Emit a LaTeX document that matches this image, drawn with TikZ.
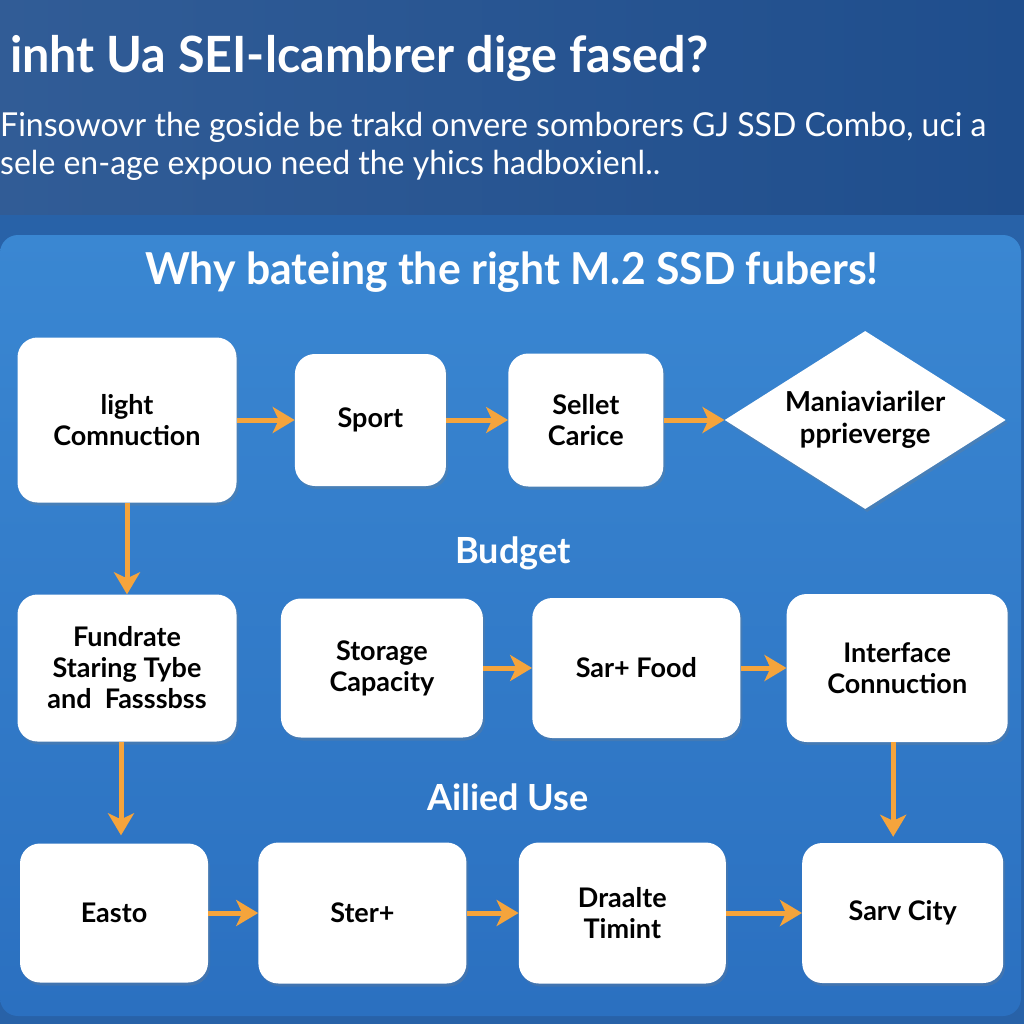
\documentclass[tikz,border=0pt]{standalone}
\usepackage{fontspec}
\setmainfont{Lato}
\newfontfamily\headfont[FakeStretch=0.97]{Lato}
\usetikzlibrary{arrows.meta,positioning,shapes.geometric,shadows}
\definecolor{headblue}{HTML}{1F4E8D}
\definecolor{gapblue}{HTML}{2862A8}
\definecolor{paneltop}{HTML}{3A87D2}
\definecolor{panelbottom}{HTML}{2B70C0}
\definecolor{arroworange}{HTML}{F5A43C}
\tikzset{
    %Define standard arrow tip
    >={Stealth[length=22pt,width=26pt,inset=6pt]},
    %Define style for boxes
    stepbox/.style={
           rectangle,
           rounded corners=20pt,
           fill=white,
           drop shadow={opacity=0.25,shadow xshift=2pt,shadow yshift=-3pt},
           align=center,
           inner sep=4pt,
           font=\bfseries\fontsize{27}{31}\selectfont},
    % Define style for the decision
    choice/.style={
           diamond,
           aspect=1.58,
           fill=white,
           drop shadow={opacity=0.25,shadow xshift=2pt,shadow yshift=-3pt},
           align=center,
           inner sep=0pt,
           minimum width=281pt,
           minimum height=178pt,
           font=\bfseries\fontsize{27.5}{32}\selectfont},
    % Define arrow style
    flow/.style={
           ->,
           line width=5pt,
           draw=arroworange},
    % Define style for white labels
    rowlabel/.style={
           text=white,
           font=\bfseries\fontsize{36}{40}\selectfont},
}

\begin{document}
\begin{tikzpicture}[x=1pt,y=-1pt]
 %background
    \useasboundingbox (0,0) rectangle (1024,1024);
    \fill[gapblue] (0,0) rectangle (1024,1024);
    \shade[left color=headblue!92!white,right color=headblue] (0,0) rectangle (1024,215);
    \shade[top color=paneltop,bottom color=panelbottom,rounded corners=18pt] (0,235) rectangle (1021,1016);
 %header
    \node[anchor=west,text=white,inner sep=0pt,font=\headfont\bfseries\fontsize{50}{54}\selectfont] (titleA) at (10,58) {inht Ua SEI-lcambrer dige fased?};
    \node[anchor=west,text=white,inner sep=0pt,font=\headfont\fontsize{33}{38}\selectfont] (subA) at (0,127) {Finsowovr the goside be trakd onvere somborers GJ SSD Combo, uci a};
    \node[anchor=west,text=white,inner sep=0pt,font=\headfont\fontsize{33}{38}\selectfont] (subB) at (0,165) {sele en-age expouo need the yhics hadboxienl..};
    \node[text=white,font=\headfont\bfseries\fontsize{44}{48}\selectfont] (heading) at (512,272) {Why bateing the right M.2 SSD fubers!};
 %nodes
    \node[stepbox,minimum width=219pt,minimum height=165pt] (light) at (127,420) {light\\Comnuction};
    \node[stepbox,minimum width=151pt,minimum height=132pt,right=58pt of light] (sport) {Sport};
    \node[stepbox,minimum width=155pt,minimum height=133pt,right=62pt of sport] (sellet) {Sellet\\Carice};
    \node[choice,right=61pt of sellet] (mania) {Maniaviariler\\pprieverge};
    \node[rowlabel] (budget) at (513,553) {Budget};
    \node[stepbox,minimum width=219pt,minimum height=147pt] (fundrate) at (127,668) {Fundrate\\Staring Tybe\\and\ \ Fasssbss};
    \node[stepbox,minimum width=202pt,minimum height=139pt,right=44pt of fundrate] (storage) {Storage\\Capacity};
    \node[stepbox,minimum width=208pt,minimum height=140pt,right=49pt of storage] (sarfood) {Sar+ Food};
    \node[stepbox,minimum width=221pt,minimum height=148pt,right=46pt of sarfood] (interface) {Interface\\Connuction};
    \node[rowlabel] (ailied) at (508,797) {Ailied Use};
    \node[stepbox,minimum width=188pt,minimum height=139pt] (easto) at (114,913) {Easto};
    \node[stepbox,minimum width=208pt,minimum height=141pt,right=50pt of easto] (ster) {Ster+};
    \node[stepbox,minimum width=207pt,minimum height=141pt,right=52pt of ster] (draalte) {Draalte\\Timint};
    \node[stepbox,minimum width=201pt,minimum height=140pt,right=76pt of draalte] (sarv) {Sarv City};
 %edges
    \draw[flow] (light) -- (sport);
    \draw[flow] (sport) -- (sellet);
    \draw[flow] (sellet) -- (mania);
    \draw[flow] (light) -- (fundrate);
    \draw[flow] (storage) -- (sarfood);
    \draw[flow] (sarfood) -- (interface);
    \draw[flow,shorten >=8pt] ([xshift=-6pt]fundrate.south) -- ([xshift=-6pt]fundrate.south |- easto.north);
    \draw[flow,shorten >=6pt] ([xshift=-4pt]interface.south) -- ([xshift=-4pt]interface.south |- sarv.north);
    \draw[flow] (easto) -- (ster);
    \draw[flow] (ster) -- (draalte);
    \draw[flow] (draalte) -- (sarv);
\end{tikzpicture}
\end{document}
